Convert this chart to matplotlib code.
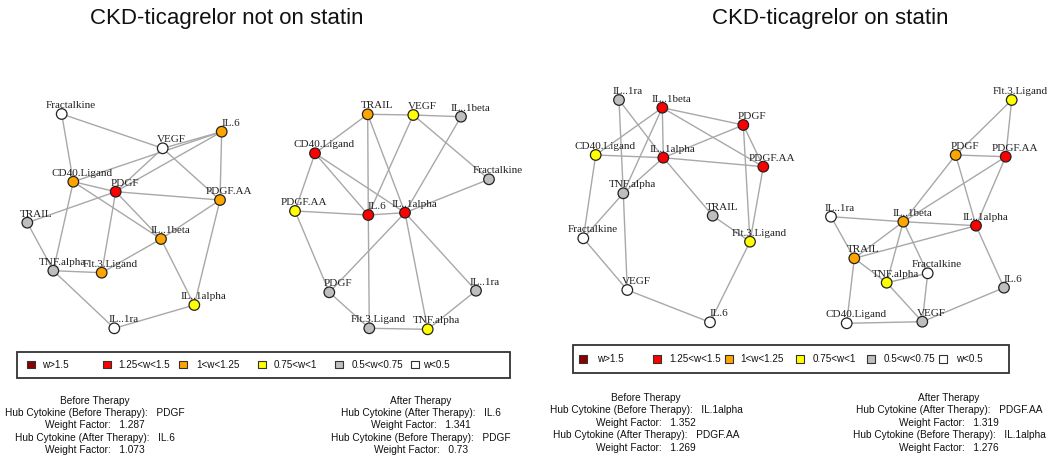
import matplotlib
matplotlib.use("Agg")
import matplotlib.pyplot as plt
from matplotlib.collections import LineCollection

# weight classes used by the legend (index into these lists)
class_labels = ["w>1.5", "1.25<w<1.5", "1<w<1.25", "0.75<w<1", "0.5<w<0.75", "w<0.5"]
class_colors = ["#8b0000", "#ff0000", "#ffa500", "#ffff00", "#bebebe", "#ffffff"]

# ---- panel 1: not on statin, before therapy (layout coords in px)
p1_names = ["Fractalkine", "VEGF", "IL.6", "CD40.Ligand", "PDGF", "PDGF.AA", "TRAIL",
            "IL..1beta", "TNF.alpha", "Flt.3.Ligand", "IL..1alpha", "IL..1ra"]
p1_x = [61.7, 162.7, 221.7, 73.3, 115.7, 220.0, 27.3, 161.0, 53.3, 101.7, 194.3, 114.3]
p1_y = [114.0, 148.3, 131.7, 181.7, 191.7, 200.0, 222.7, 239.0, 270.7, 272.7, 305.0, 328.3]
p1_cls = [5, 5, 2, 2, 1, 2, 4, 2, 4, 2, 3, 5]
p1_edges = [("Fractalkine", "VEGF"), ("Fractalkine", "CD40.Ligand"), ("VEGF", "IL.6"),
            ("VEGF", "PDGF"), ("VEGF", "PDGF.AA"), ("CD40.Ligand", "IL.6"), ("PDGF", "IL.6"),
            ("IL.6", "PDGF.AA"), ("PDGF", "PDGF.AA"), ("PDGF", "TRAIL"), ("PDGF", "Flt.3.Ligand"),
            ("PDGF", "IL..1beta"), ("CD40.Ligand", "PDGF"), ("CD40.Ligand", "IL..1beta"),
            ("CD40.Ligand", "TNF.alpha"), ("PDGF.AA", "IL..1beta"), ("PDGF.AA", "IL..1alpha"),
            ("TRAIL", "TNF.alpha"), ("TNF.alpha", "Flt.3.Ligand"), ("TNF.alpha", "IL..1ra"),
            ("Flt.3.Ligand", "IL..1beta"), ("IL..1beta", "IL..1alpha"), ("IL..1alpha", "IL..1ra")]

# ---- panel 2: not on statin, after therapy
p2_names = ["TRAIL", "VEGF", "IL..1beta", "CD40.Ligand", "Fractalkine", "PDGF.AA", "IL.6",
            "IL..1alpha", "PDGF", "IL..1ra", "Flt.3.Ligand", "TNF.alpha"]
p2_x = [367.7, 413.3, 461.0, 315.0, 489.0, 295.0, 368.3, 405.0, 329.3, 476.0, 369.3, 427.7]
p2_y = [114.3, 115.0, 116.7, 153.3, 179.3, 211.0, 215.0, 212.7, 292.3, 290.7, 328.3, 329.3]
p2_cls = [2, 3, 4, 1, 4, 3, 1, 1, 4, 4, 4, 3]
p2_edges = [("TRAIL", "VEGF"), ("VEGF", "IL..1beta"), ("TRAIL", "CD40.Ligand"), ("TRAIL", "IL.6"),
            ("IL.6", "Flt.3.Ligand"), ("TRAIL", "IL..1alpha"), ("VEGF", "IL.6"),
            ("VEGF", "Fractalkine"), ("IL..1beta", "IL..1alpha"), ("CD40.Ligand", "IL.6"),
            ("CD40.Ligand", "IL..1alpha"), ("CD40.Ligand", "PDGF.AA"), ("Fractalkine", "IL..1alpha"),
            ("PDGF.AA", "IL.6"), ("IL.6", "IL..1alpha"), ("PDGF.AA", "PDGF"), ("IL..1alpha", "PDGF"),
            ("IL..1alpha", "TNF.alpha"), ("IL..1alpha", "IL..1ra"), ("PDGF", "Flt.3.Ligand"),
            ("Flt.3.Ligand", "TNF.alpha"), ("TNF.alpha", "IL..1ra")]

# ---- panel 3: on statin, before therapy
p3_names = ["IL..1ra", "IL..1beta", "PDGF", "CD40.Ligand", "IL..1alpha", "PDGF.AA", "TNF.alpha",
            "TRAIL", "Fractalkine", "Flt.3.Ligand", "VEGF", "IL.6"]
p3_x = [619.0, 662.3, 743.3, 595.7, 663.3, 763.3, 623.3, 712.7, 583.3, 750.0, 627.3, 710.0]
p3_y = [100.0, 107.7, 125.0, 155.0, 157.7, 166.7, 193.3, 215.7, 238.3, 241.7, 290.0, 322.3]
p3_cls = [4, 1, 1, 3, 1, 1, 4, 4, 5, 3, 5, 5]
p3_edges = [("IL..1ra", "IL..1alpha"), ("IL..1ra", "TNF.alpha"), ("TNF.alpha", "VEGF"),
            ("IL..1beta", "PDGF"), ("IL..1beta", "PDGF.AA"), ("IL..1beta", "IL..1alpha"),
            ("IL..1beta", "CD40.Ligand"), ("IL..1beta", "TNF.alpha"), ("PDGF", "IL..1alpha"),
            ("PDGF", "PDGF.AA"), ("PDGF", "Flt.3.Ligand"), ("CD40.Ligand", "IL..1alpha"),
            ("IL..1alpha", "PDGF.AA"), ("CD40.Ligand", "Fractalkine"), ("IL..1alpha", "TNF.alpha"),
            ("IL..1alpha", "TRAIL"), ("TNF.alpha", "Fractalkine"), ("TRAIL", "Flt.3.Ligand"),
            ("PDGF.AA", "Flt.3.Ligand"), ("Fractalkine", "VEGF"), ("VEGF", "IL.6"),
            ("Flt.3.Ligand", "IL.6")]

# ---- panel 4: on statin, after therapy
p4_names = ["Flt.3.Ligand", "PDGF", "PDGF.AA", "IL..1ra", "IL..1beta", "IL..1alpha", "TRAIL",
            "Fractalkine", "TNF.alpha", "IL.6", "CD40.Ligand", "VEGF"]
p4_x = [1011.7, 955.7, 1005.7, 831.0, 903.3, 976.0, 854.3, 927.7, 886.7, 1004.0, 846.7, 922.3]
p4_y = [100.0, 155.0, 156.7, 216.7, 221.7, 225.7, 258.3, 273.3, 282.7, 287.7, 323.3, 321.7]
p4_cls = [3, 2, 1, 5, 2, 1, 2, 5, 3, 4, 5, 4]
p4_edges = [("Flt.3.Ligand", "PDGF"), ("Flt.3.Ligand", "PDGF.AA"), ("PDGF", "PDGF.AA"),
            ("PDGF", "IL..1beta"), ("PDGF", "IL..1alpha"), ("PDGF.AA", "IL..1beta"),
            ("PDGF.AA", "IL..1alpha"), ("IL..1ra", "IL..1beta"), ("IL..1beta", "IL..1alpha"),
            ("IL..1ra", "TRAIL"), ("IL..1beta", "TRAIL"), ("IL..1beta", "TNF.alpha"),
            ("IL..1beta", "Fractalkine"), ("IL..1alpha", "TRAIL"), ("IL..1alpha", "IL.6"),
            ("TRAIL", "TNF.alpha"), ("TRAIL", "CD40.Ligand"), ("TNF.alpha", "Fractalkine"),
            ("TNF.alpha", "VEGF"), ("Fractalkine", "VEGF"), ("CD40.Ligand", "VEGF"),
            ("VEGF", "IL.6")]

panels = [(p1_names, p1_x, p1_y, p1_cls, p1_edges),
          (p2_names, p2_x, p2_y, p2_cls, p2_edges),
          (p3_names, p3_x, p3_y, p3_cls, p3_edges),
          (p4_names, p4_x, p4_y, p4_cls, p4_edges)]

titles = ["CKD-ticagrelor not on statin", "CKD-ticagrelor on statin"]
title_x = [227, 830]

# hub cytokine summary text blocks
summary_blocks = [
    ["Before Therapy", "Hub Cytokine (Before Therapy):   PDGF", "Weight Factor:   1.287",
     "Hub Cytokine (After Therapy):   IL.6", "Weight Factor:   1.073"],
    ["After Therapy", "Hub Cytokine (After Therapy):   IL.6", "Weight Factor:   1.341",
     "Hub Cytokine (Before Therapy):   PDGF", "Weight Factor:   0.73"],
    ["Before Therapy", "Hub Cytokine (Before Therapy):   IL.1alpha", "Weight Factor:   1.352",
     "Hub Cytokine (After Therapy):   PDGF.AA", "Weight Factor:   1.269"],
    ["After Therapy", "Hub Cytokine (After Therapy):   PDGF.AA", "Weight Factor:   1.319",
     "Hub Cytokine (Before Therapy):   IL.1alpha", "Weight Factor:   1.276"],
]
summary_x = [95, 421, 646, 949]
summary_y0 = [400.5, 400.5, 398, 398]

# legend geometry (box left/right/top/bottom, square and text x positions)
legend_boxes = [(17.3, 510, 351.5, 377.5), (573.3, 1009, 345, 373.3)]
legend_sq_x = [[30.7, 106.7, 182.7, 261.7, 339.3, 415.0],
               [583.3, 656.7, 729.0, 800.0, 871.0, 943.3]]
legend_tx_x = [[41.7, 118.3, 196.7, 274.0, 351.7, 422.7],
               [596.7, 669.3, 740.7, 812.7, 884.0, 956.0]]

sans = "Liberation Sans"
serif = "Liberation Serif"

fig = plt.figure(figsize=(10.5, 4.67), dpi=100)
ax = fig.add_axes([0, 0, 1, 1])
ax.set_xlim(0, 1050)
ax.set_ylim(467, 0)
ax.axis("off")

for names, xs, ys, cls, edges in panels:
    pos = {n: (x, y) for n, x, y in zip(names, xs, ys)}
    segs = [[pos[a], pos[b]] for a, b in edges]
    ax.add_collection(LineCollection(segs, colors="#a8a8a8", linewidths=1.0, zorder=1))
    ax.scatter(xs, ys, s=58, c=[class_colors[c] for c in cls], edgecolors="#222222",
               linewidths=0.9, zorder=2)
    for n, x, y in zip(names, xs, ys):
        ax.text(x + 9, y - 8.5, n, fontsize=8, family=serif, ha="center", va="center",
                color="#222222", zorder=3)

for t, tx in zip(titles, title_x):
    ax.text(tx, 18.5, t, fontsize=16, family=sans, ha="center", va="center", color="#111111")

for (l, r, t, b), sqx, txx in zip(legend_boxes, legend_sq_x, legend_tx_x):
    ax.add_patch(plt.Rectangle((l, t), r - l, b - t, fill=False, edgecolor="#333333",
                               linewidth=1.3))
    yc = (t + b) / 2
    ax.scatter(sqx, [yc] * len(sqx), marker="s", s=30, c=class_colors,
               edgecolors="#333333", linewidths=0.8, zorder=3)
    for lab, x in zip(class_labels, txx):
        ax.text(x, yc, lab, fontsize=7.1, family=sans, ha="left", va="center", color="#111111")

for lines, sx, sy in zip(summary_blocks, summary_x, summary_y0):
    for i, line in enumerate(lines):
        ax.text(sx, sy + i * 12.4, line, fontsize=7.3, family=sans, ha="center",
                va="center", color="#111111")

fig.savefig("out.png", dpi=100)
